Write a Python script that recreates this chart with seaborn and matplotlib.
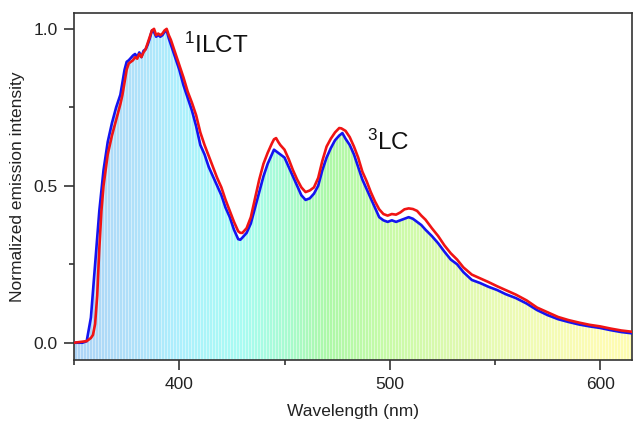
import numpy as np
import pandas as pd
import matplotlib
matplotlib.use('Agg')
import matplotlib.pyplot as plt
from matplotlib.colors import LinearSegmentedColormap
import seaborn as sns

# %% podaci (ocitano sa slike)

wl_blue = [350, 354, 356, 358, 360, 362, 364, 366, 368, 370, 372, 373, 374, 375, 376, 378,
           379, 380, 381, 382, 383, 384, 385, 386, 387, 388, 389, 390, 391, 392, 393, 394,
           395, 396, 397, 398, 399, 400, 402, 404, 406, 408, 410, 412, 414, 416, 418, 420,
           422, 424, 426, 428, 429, 430, 432, 434, 436, 438, 440, 442, 444, 445, 446, 448,
           450, 452, 454, 456, 458, 460, 462, 464, 466, 468, 470, 472, 474, 476, 477.5, 479,
           481, 483, 485, 487, 489, 491, 493, 495, 497, 499, 501, 503, 505, 507, 509, 511,
           513, 515, 517, 520, 523, 526, 529, 532, 535, 539, 543, 547, 551, 555, 560, 565,
           570, 575, 580, 585, 590, 595, 600, 605, 610, 615]
int_blue = [0.0, 0.0, 0.005, 0.08, 0.25, 0.42, 0.55, 0.64, 0.70, 0.75, 0.79, 0.83, 0.87, 0.895, 0.90, 0.915,
            0.92, 0.91, 0.925, 0.91, 0.93, 0.935, 0.95, 0.97, 0.995, 0.99, 0.975, 0.98, 0.975, 0.98, 0.99, 0.995,
            0.97, 0.95, 0.93, 0.91, 0.89, 0.87, 0.82, 0.78, 0.74, 0.69, 0.63, 0.60, 0.56, 0.53, 0.50, 0.47,
            0.43, 0.40, 0.36, 0.33, 0.328, 0.335, 0.35, 0.38, 0.43, 0.48, 0.53, 0.57, 0.60, 0.615, 0.61, 0.60,
            0.59, 0.56, 0.53, 0.50, 0.47, 0.455, 0.46, 0.475, 0.50, 0.55, 0.59, 0.62, 0.645, 0.66, 0.668, 0.65,
            0.63, 0.60, 0.56, 0.52, 0.49, 0.46, 0.43, 0.40, 0.39, 0.385, 0.39, 0.385, 0.39, 0.395, 0.40, 0.395,
            0.385, 0.375, 0.36, 0.34, 0.317, 0.29, 0.265, 0.25, 0.225, 0.20, 0.19, 0.178, 0.168, 0.155, 0.142, 0.125,
            0.104, 0.088, 0.075, 0.066, 0.058, 0.052, 0.047, 0.04, 0.034, 0.03]

wl_red = [350, 356, 358, 359, 360, 361, 362, 363, 364, 366, 368, 370, 372, 373, 374, 375,
          376, 378, 379, 380, 381, 382, 383, 384, 385, 386, 387, 388, 389, 390, 391, 392,
          393, 394, 395, 396, 397, 398, 399, 400, 402, 404, 406, 408, 410, 412, 414, 416,
          418, 420, 422, 424, 426, 428, 429, 430, 432, 434, 436, 438, 440, 442, 444, 445,
          446, 447, 448, 450, 452, 454, 456, 458, 460, 462, 464, 466, 468, 470, 472, 474,
          476, 477, 479, 481, 483, 485, 487, 489, 491, 493, 495, 497, 499, 501, 503, 505,
          507, 509, 511, 513, 515, 517, 520, 523, 526, 529, 532, 535, 539, 543, 547, 551,
          555, 560, 565, 570, 575, 580, 585, 590, 595, 600, 605, 610, 615]
int_red = [0.0, 0.005, 0.015, 0.025, 0.06, 0.15, 0.30, 0.42, 0.50, 0.60, 0.66, 0.71, 0.76, 0.79, 0.83, 0.87,
           0.89, 0.90, 0.91, 0.905, 0.92, 0.91, 0.925, 0.935, 0.955, 0.975, 0.995, 1.0, 0.98, 0.985, 0.98, 0.985,
           0.995, 1.0, 0.98, 0.965, 0.945, 0.925, 0.905, 0.885, 0.845, 0.80, 0.765, 0.725, 0.67, 0.63, 0.595, 0.56,
           0.525, 0.495, 0.455, 0.42, 0.385, 0.355, 0.35, 0.35, 0.365, 0.40, 0.46, 0.52, 0.57, 0.605, 0.635, 0.648,
           0.652, 0.64, 0.63, 0.615, 0.585, 0.55, 0.52, 0.495, 0.48, 0.485, 0.495, 0.525, 0.58, 0.625, 0.65, 0.67,
           0.684, 0.683, 0.675, 0.655, 0.625, 0.59, 0.545, 0.515, 0.48, 0.45, 0.425, 0.41, 0.405, 0.41, 0.408, 0.415,
           0.425, 0.428, 0.426, 0.42, 0.405, 0.392, 0.365, 0.34, 0.31, 0.285, 0.265, 0.24, 0.217, 0.205, 0.193, 0.18,
           0.168, 0.153, 0.135, 0.112, 0.097, 0.082, 0.072, 0.064, 0.057, 0.052, 0.045, 0.039, 0.035]

x_ticks = [400, 500, 600]
y_ticks = [0.0, 0.5, 1.0]
y_tick_labels = ['0.0', '0.5', '1.0']

df_blue = pd.DataFrame({'wl': wl_blue, 'intensity': int_blue})
df_red = pd.DataFrame({'wl': wl_red, 'intensity': int_red})

# %% stil

sns.set_style('ticks')
plt.rcParams['font.family'] = ['Liberation Sans', 'DejaVu Sans']
plt.rcParams['mathtext.fontset'] = 'custom'
plt.rcParams['mathtext.rm'] = 'Liberation Sans'

x_min, x_max = 350, 615
y_min, y_max = -0.055, 1.05

fig, ax = plt.subplots(figsize=(6.33, 4.25), dpi=100)
fig.subplots_adjust(left=0.117, right=0.998, bottom=0.153, top=0.969)

# spektralna pozadina ispod plave krive (bledi tonovi boja po talasnoj duzini)
stops = [(350, '#aed4f6'), (380, '#b0e2fa'), (400, '#adf0fd'), (430, '#a9fcf2'),
         (450, '#a8fbd2'), (470, '#adf8a9'), (500, '#c9fba8'), (530, '#ddf9af'),
         (560, '#edfbb6'), (600, '#fdfcb4'), (615, '#fefcb0')]
pos = [(w - x_min) / (x_max - x_min) for w, _ in stops]
cmap = LinearSegmentedColormap.from_list('spec', list(zip(pos, [c for _, c in stops])))

ncol = 558
cols = np.array([cmap(i / (ncol - 1))[:3] for i in range(ncol)])
cols[::3] = cols[::3] * 0.55 + 0.45  # svetle pruge kao na originalu
img = cols[np.newaxis, :, :]

poly = ax.fill_between(df_blue['wl'], y_min, df_blue['intensity'],
                       facecolor='none', edgecolor='none')
im = ax.imshow(img, extent=[x_min, x_max, y_min, y_max], aspect='auto',
               interpolation='nearest', zorder=1)
im.set_clip_path(poly.get_paths()[0], transform=ax.transData)

sns.lineplot(data=df_blue, x='wl', y='intensity', color='#1414f0', linewidth=1.9,
             ax=ax, zorder=3, sort=False)
sns.lineplot(data=df_red, x='wl', y='intensity', color='#f01414', linewidth=1.9,
             ax=ax, zorder=4, sort=False)

ax.set_xlim(x_min, x_max)
ax.set_ylim(y_min, y_max)
ax.set_xticks(x_ticks)
ax.set_xticks([350, 450, 550], minor=True)
ax.set_yticks(y_ticks)
ax.set_yticklabels(y_tick_labels)
ax.set_yticks([0.25, 0.75], minor=True)

ax.tick_params(which='major', length=7, width=1.1, color='#222222', labelsize=12.5,
               labelcolor='#222222', pad=5)
ax.tick_params(which='minor', length=3.5, width=1.1, color='#222222')
for s in ax.spines.values():
    s.set_linewidth(1.2)
    s.set_color('#333333')
    s.set_visible(True)

ax.set_xlabel('Wavelength (nm)', fontsize=12.5, color='#222222', labelpad=9)
ax.set_ylabel('Normalized emission intensity', fontsize=12.5, color='#222222', labelpad=6)

ax.text(402.4, 0.924, r'$\mathregular{^1}$ILCT', fontsize=17.5, color='#111111', zorder=5)
ax.text(489.2, 0.615, r'$\mathregular{^3}$LC', fontsize=17.5, color='#111111', zorder=5)

plt.savefig('out.png', dpi=100)
